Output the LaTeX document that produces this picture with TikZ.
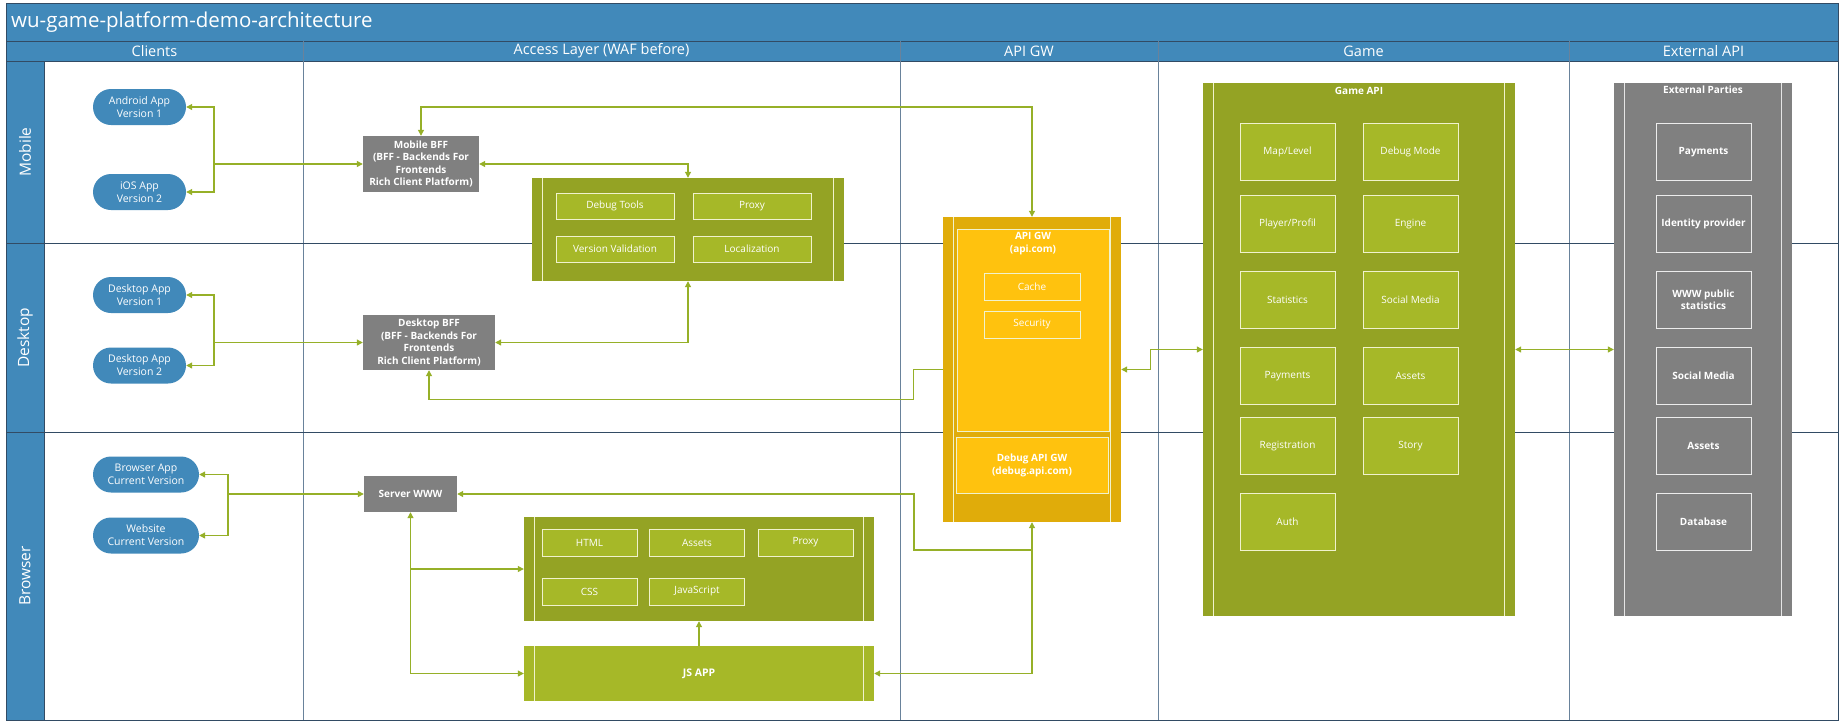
\documentclass[tikz,border=0pt]{standalone}
\usepackage{fontspec}
\setmainfont{Open Sans}
\usetikzlibrary{arrows.meta,calc}
\definecolor{hblue}{RGB}{65,137,186}
\definecolor{rowline}{RGB}{50,75,100}
\definecolor{colline}{RGB}{105,130,155}
\definecolor{olivedark}{RGB}{148,163,36}
\definecolor{olivelight}{RGB}{166,184,40}
\definecolor{cream}{RGB}{240,242,205}
\definecolor{bffgray}{RGB}{128,128,128}
\definecolor{golddark}{RGB}{224,172,10}
\definecolor{goldlight}{RGB}{255,194,14}
\definecolor{connc}{RGB}{150,176,40}
\newcommand{\clines}[2]{%
  \draw[cline] ([xshift=#2]#1.north west) -- ([xshift=#2]#1.south west);
  \draw[cline] ([xshift=-#2]#1.north east) -- ([xshift=-#2]#1.south east);}
\begin{document}
\begin{tikzpicture}[x=1pt,y=-1pt,
  box/.style={rectangle, inner sep=0pt, align=center, text=white},
  pill/.style={box, fill=hblue, rounded corners=18pt, minimum height=36pt, font=\fontsize{10.5}{13}\selectfont},
  bff/.style={box, fill=bffgray, font=\bfseries\fontsize{10}{12.5}\selectfont},
  cont/.style={box, anchor=center},
  cline/.style={draw=cream, line width=1pt},
  ibox/.style={box, draw=cream, line width=1pt, fill=olivelight, minimum height=26pt, font=\fontsize{10}{12}\selectfont},
  gibox/.style={box, draw=cream, line width=1pt, fill=olivelight, minimum width=95pt, minimum height=57pt, font=\fontsize{10}{12}\selectfont},
  xibox/.style={box, draw=white!85!gray, line width=1pt, fill=bffgray, minimum width=95pt, minimum height=57pt, font=\bfseries\fontsize{10}{12}\selectfont},
  yibox/.style={box, draw=cream, line width=1pt, fill=goldlight, font=\fontsize{10}{12}\selectfont},
  hdr/.style={text=white, font=\fontsize{14.5}{16}\selectfont, inner sep=0pt},
  lane/.style={text=white, font=\fontsize{15.5}{17}\selectfont, inner sep=0pt, rotate=90},
  conn/.style={draw=connc, line width=1.1pt, arrows={-}},
  tip/.style={-{Triangle[length=6pt,width=6pt]}},
  tips/.style={{Triangle[length=6pt,width=6pt]}-{Triangle[length=6pt,width=6pt]}}
]
\useasboundingbox (0,0) rectangle (1843,724);
\fill[white] (0,0) rectangle (1843,724);
% title and headers
\fill[hblue] (6,3) rectangle (1838,61);
\fill[hblue] (6,61) rectangle (44,720);
\node[anchor=west, text=white, font=\fontsize{20.5}{24}\selectfont, inner sep=0pt] (title) at (11,22) {wu-game-platform-demo-architecture};
\draw[rowline, line width=0.8pt] (6,41) -- (1838,41);
\draw[rowline, line width=0.8pt] (6,61) -- (1838,61);
\node[hdr] (hclients) at (154.5,51) {Clients};
\node[hdr] (haccess) at (601.5,51) {Access Layer (WAF before)};
\node[hdr] (hapigw) at (1029,51) {API GW};
\node[hdr] (hgame) at (1363.5,51) {Game};
\node[hdr] (hext) at (1703.5,51) {External API};
% grid lines
\foreach \xx in {303,900,1158,1569} \draw[colline, line width=0.9pt] (\xx,41) -- (\xx,720);
\foreach \yy in {243,432} \draw[rowline, line width=0.9pt] (6,\yy) -- (1838,\yy);
\draw[rowline, line width=0.9pt] (44,61) -- (44,720);
\draw[rowline, line width=1pt] (6,3) rectangle (1838,720);
\node[lane] (lmobile) at (25,152) {Mobile};
\node[lane] (ldesktop) at (25,338) {Desktop};
\node[lane] (lbrowser) at (25,576) {Browser};

% clients
\node[pill, minimum width=93pt] (android) at (139.5,107) {Android App\\Version 1};
\node[pill, minimum width=93pt] (ios) at (139.5,192) {iOS App\\Version 2};
\node[pill, minimum width=93pt] (dapp1) at (139.5,295) {Desktop App\\Version 1};
\node[pill, minimum width=93pt] (dapp2) at (139.5,365.5) {Desktop App\\Version 2};
\node[pill, minimum width=106pt] (bapp) at (146,474.5) {Browser App\\Current Version};
\node[pill, minimum width=106pt] (web) at (146,535.5) {Website\\Current Version};

% BFFs
\node[bff, minimum width=116pt, minimum height=56pt] (mbff) at (421,164) {Mobile BFF\\(BFF - Backends For\\Frontends\\Rich Client Platform)};
\node[bff, minimum width=132pt, minimum height=55pt] (dbff) at (429,342.5) {Desktop BFF\\(BFF - Backends For\\Frontends\\Rich Client Platform)};
\node[bff, minimum width=93pt, minimum height=36pt] (www) at (410.5,494) {Server WWW};

% mobile access container
\node[cont, fill=olivedark, minimum width=312pt, minimum height=103pt] (macc) at (688,229.5) {};
\clines{macc}{11pt}
\node[ibox, minimum width=118pt] (debugtools) at (615,206) {Debug Tools};
\node[ibox, minimum width=118pt] (mproxy) at (752,206) {Proxy};
\node[ibox, minimum width=118pt] (versionval) at (615,249) {Version Validation};
\node[ibox, minimum width=118pt] (localization) at (752,249) {Localization};

% browser access container
\node[cont, fill=olivedark, minimum width=350pt, minimum height=104pt] (bacc) at (699,569) {};
\clines{bacc}{11pt}
\node[ibox, minimum width=95pt, minimum height=27pt] (html) at (589.5,542.5) {HTML};
\node[ibox, minimum width=95pt, minimum height=27pt] (bassets) at (697,542.5) {Assets};
\node[ibox, minimum width=95pt, minimum height=27pt] (bproxy) at (805.5,542.5) {Proxy};
\node[ibox, minimum width=95pt, minimum height=27pt] (css) at (589.5,591.5) {CSS};
\node[ibox, minimum width=95pt, minimum height=27pt] (js) at (697,591.5) {JavaScript};
\node[cont, fill=olivelight, minimum width=350pt, minimum height=55pt, font=\bfseries\fontsize{10.5}{12}\selectfont] (jsapp) at (699,673.5) {JS APP};
\clines{jsapp}{11pt}

% API GW container
\node[cont, fill=golddark, minimum width=178pt, minimum height=305pt] (apigw) at (1032,369.5) {};
\clines{apigw}{11pt}
\node[yibox, minimum width=152pt, minimum height=202pt] (apiinner) at (1033,330) {};
\node[text=white, align=center, inner sep=0pt, font=\bfseries\fontsize{10}{13}\selectfont] (apititle) at (1033,243.5) {API GW\\(api.com)};
\node[yibox, minimum width=96pt, minimum height=27pt] (cache) at (1032,286.5) {Cache};
\node[yibox, minimum width=96pt, minimum height=27pt] (security) at (1032,324.5) {Security};
\node[yibox, minimum width=152pt, minimum height=56pt, font=\bfseries\fontsize{10}{13}\selectfont] (debuggw) at (1032,465) {Debug API GW\\(debug.api.com)};

% Game API container
\node[cont, fill=olivedark, minimum width=312pt, minimum height=533pt] (gameapi) at (1359,349.5) {};
\clines{gameapi}{11pt}
\node[text=white, inner sep=0pt, font=\bfseries\fontsize{10}{11}\selectfont] (gametitle) at (1359,91) {Game API};
\node[gibox] (maplevel) at (1287.5,152) {Map/Level};
\node[gibox] (debugmode) at (1410.5,152) {Debug Mode};
\node[gibox] (player) at (1287.5,224) {Player/Profil};
\node[gibox] (engine) at (1410.5,224) {Engine};
\node[gibox] (stats) at (1287.5,300) {Statistics};
\node[gibox] (gsocial) at (1410.5,300) {Social Media};
\node[gibox] (gpay) at (1287.5,375.7) {Payments};
\node[gibox] (gassets) at (1410.5,375.7) {Assets};
\node[gibox] (reg) at (1287.5,446.4) {Registration};
\node[gibox] (story) at (1410.5,446.4) {Story};
\node[gibox] (auth) at (1287.5,521.6) {Auth};

% External parties container
\node[cont, fill=bffgray, minimum width=178pt, minimum height=533pt] (ext) at (1703,349.5) {};
\draw[white!80!gray, line width=1pt] ([xshift=11pt]ext.north west) -- ([xshift=11pt]ext.south west);
\draw[white!80!gray, line width=1pt] ([xshift=-11pt]ext.north east) -- ([xshift=-11pt]ext.south east);
\node[text=white, inner sep=0pt, font=\bfseries\fontsize{10}{11}\selectfont] (exttitle) at (1703,90) {External Parties};
\node[xibox] (xpay) at (1703.5,152) {Payments};
\node[xibox] (xid) at (1703.5,224) {Identity provider};
\node[xibox] (xwww) at (1703.5,300) {WWW public\\statistics};
\node[xibox] (xsocial) at (1703.5,375.7) {Social Media};
\node[xibox] (xassets) at (1703.5,446.4) {Assets};
\node[xibox] (xdb) at (1703.5,521.6) {Database};

% connectors
\coordinate (jm) at (214,164);
\coordinate (jd) at (214,342.5);
\coordinate (jb) at (228,494);
\coordinate (ytop) at (0,107);
\coordinate (br) at (1032,550);

\draw[conn,tip] (jm) |- (android.east);
\draw[conn,tip] (jm) |- (ios.east);
\draw[conn,tip] (jm) -- (mbff.west);
\draw[conn,tip] (jd) |- (dapp1.east);
\draw[conn,tip] (jd) |- (dapp2.east);
\draw[conn,tip] (jd) -- (dbff.west);
\draw[conn,tip] (jb) |- (bapp.east);
\draw[conn,tip] (jb) |- (web.east);
\draw[conn,tip] (jb) -- (www.west);

\draw[conn,tips] (mbff.north) -- (mbff.north |- ytop) -| (apigw.north);
\draw[conn,tips] (mbff.east) -| (macc.north);
\draw[conn,tips] (dbff.east) -| (macc.south);
\draw[conn,tip] (apigw.west) -- ++(-29,0) -- ++(0,30) -| (dbff.south);
\draw[conn,tips] (apigw.east) -- ++(29,0) |- (gameapi.west);
\draw[conn,tips] (gameapi.east) -- (ext.west);
\draw[conn,tips] (apigw.south) |- (jsapp.east);
\draw[conn,tip] (br) -- ++(-118,0) |- (www.east);
\draw[conn,tips] (www.south) |- (jsapp.west);
\draw[conn,tip] (www.south |- bacc.west) -- (bacc.west);
\draw[conn,tip] (jsapp.north) -- (bacc.south);
\end{tikzpicture}
\end{document}
